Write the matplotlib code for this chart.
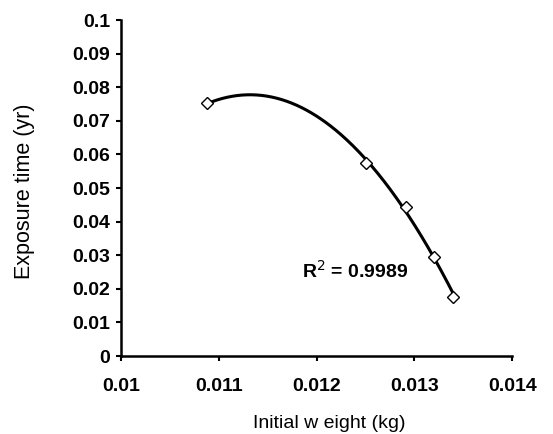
import numpy as np
import matplotlib
matplotlib.use("Agg")
import matplotlib.pyplot as plt

plt.rcParams['font.family'] = ['Liberation Sans', 'DejaVu Sans']

weight = [0.01088, 0.012505, 0.012914, 0.0132, 0.013398]
exposure = [0.0752, 0.0573, 0.0444, 0.02955, 0.01766]
xticks = [0.01, 0.011, 0.012, 0.013, 0.014]
xticklabels = ["0.01", "0.011", "0.012", "0.013", "0.014"]
yticks = [0, 0.01, 0.02, 0.03, 0.04, 0.05, 0.06, 0.07, 0.08, 0.09, 0.1]
yticklabels = ["0", "0.01", "0.02", "0.03", "0.04", "0.05", "0.06", "0.07", "0.08", "0.09", "0.1"]
r2_label = "R$^2$ = 0.9989"

fig = plt.figure(figsize=(5.53, 4.34), dpi=100)
ax = fig.add_axes([0.2188, 0.1797, 0.9264 - 0.2188, 0.9539 - 0.1797])

coef = np.polyfit(weight, exposure, 2)
xs = np.linspace(min(weight), max(weight), 200)
ax.plot(xs, np.polyval(coef, xs), color='black', lw=2.2, zorder=2)
ax.plot(weight, exposure, linestyle='none', marker='D', markersize=6,
        markerfacecolor='white', markeredgecolor='black', markeredgewidth=1.0, zorder=3)

ax.set_xlim(0.01, 0.014)
ax.set_ylim(0, 0.1)
ax.set_xticks(xticks)
ax.set_xticklabels(xticklabels, fontweight='bold', fontsize=14)
ax.set_yticks(yticks)
ax.set_yticklabels(yticklabels, fontweight='bold', fontsize=14)
ax.tick_params(direction='out', length=3.8, width=1.5)
ax.tick_params(axis='x', pad=12)
ax.tick_params(axis='y', pad=4)
for s in ['top', 'right']:
    ax.spines[s].set_visible(False)
for s in ['left', 'bottom']:
    ax.spines[s].set_linewidth(1.8)

ax.set_xlabel("Initial w eight (kg)", fontsize=14)
ax.set_ylabel("Exposure time (yr)", fontsize=15.5)
ax.xaxis.set_label_coords(0.531, -0.176)
ax.yaxis.set_label_coords(-0.22, 0.49)

ax.text(0.011848, 0.0232, r2_label, fontsize=14, fontweight='bold', ha='left', va='baseline')

fig.savefig("out.png", dpi=100)
